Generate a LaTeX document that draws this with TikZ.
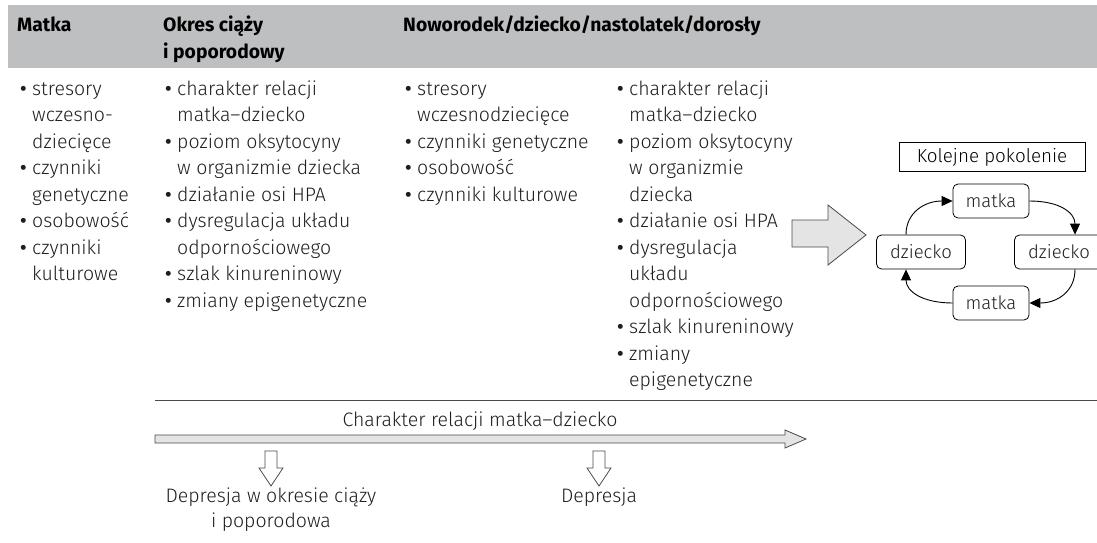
\documentclass[tikz,border=0pt]{standalone}
\usepackage{fontspec}
\setmainfont{Fira Sans}[UprightFont=* Light, BoldFont=* Bold]
\newfontfamily\bulletfont{Fira Sans}[UprightFont=* Medium]
\usetikzlibrary{arrows.meta}
\definecolor{band}{HTML}{BEBFC1}
\definecolor{txt}{HTML}{1E1E1E}
\definecolor{ln}{HTML}{4A4A4A}
\definecolor{arrfill}{HTML}{E4E4E4}
\newcommand{\bl}{{\bulletfont\textbullet}}
\begin{document}
\begin{tikzpicture}[x=1pt,y=-1pt,
  lst/.style={anchor=base west, inner sep=0pt, text=txt, font=\fontsize{19.5}{26.5}\selectfont},
  hdr/.style={anchor=base west, inner sep=0pt, font=\fontsize{19.3}{27}\selectfont\bfseries},
  rbox/.style={draw, rounded corners=5pt, line width=0.8pt, minimum height=34pt, inner sep=0pt, text=txt, font=\fontsize{18.5}{20}\selectfont},
  cyc/.style={line width=0.9pt, -{Triangle[length=11pt,width=10pt]}},
  garrow/.style={draw=ln, line width=0.8pt, line join=miter},
  lbl/.style={anchor=base, inner sep=0pt, text=txt, font=\fontsize{19.5}{25}\selectfont}
]
\clip (0,0) rectangle (1097,543);
\fill[white] (0,0) rectangle (1097,543);
% header band
\fill[band] (8,5) rectangle (1097,68);
\node[hdr] (h1) at (17,32) {Matka};
\node[hdr] (h2) at (163,32) {\begin{tabular}[t]{@{}l@{}}Okres ciąży\\i poporodowy\end{tabular}};
\node[hdr] (h3) at (403,32) {Noworodek/dziecko/nastolatek/dorosły};
% columns
\node[lst] (c1) at (20,95) {\begin{tabular}[t]{@{}p{12pt}@{}l@{}}
\bl & stresory\\ & wczesno-\\ & dziecięce\\ \bl & czynniki\\ & genetyczne\\ \bl & osobowość\\ \bl & czynniki\\ & kulturowe\end{tabular}};
\node[lst] (c2) at (165,95) {\begin{tabular}[t]{@{}p{12pt}@{}l@{}}
\bl & charakter relacji\\ & matka–dziecko\\ \bl & poziom oksytocyny\\ & w organizmie dziecka\\ \bl & działanie osi HPA\\ \bl & dysregulacja układu\\ & odpornościowego\\ \bl & szlak kinureninowy\\ \bl & zmiany epigenetyczne\end{tabular}};
\node[lst] (c3) at (405,95) {\begin{tabular}[t]{@{}p{12pt}@{}l@{}}
\bl & stresory\\ & wczesnodziecięce\\ \bl & czynniki genetyczne\\ \bl & osobowość\\ \bl & czynniki kulturowe\end{tabular}};
\node[lst] (c4) at (617,95) {\begin{tabular}[t]{@{}p{12pt}@{}l@{}}
\bl & charakter relacji\\ & matka–dziecko\\ \bl & poziom oksytocyny\\ & w organizmie\\ & dziecka\\ \bl & działanie osi HPA\\ \bl & dysregulacja\\ & układu\\ & odpornościowego\\ \bl & szlak kinureninowy\\ \bl & zmiany\\ & epigenetyczne\end{tabular}};
% big arrow
\filldraw[garrow, fill=arrfill] (792,220) -- (828,220) -- (828,205) -- (866,235) -- (828,265) -- (828,247) -- (792,247) -- cycle;
% cycle
\node[draw, line width=0.8pt, minimum width=186pt, minimum height=29pt, inner sep=0pt, font=\fontsize{18.8}{20}\selectfont] (kp) at (992,157) {Kolejne pokolenie};
\node[rbox, minimum width=76pt] (mt) at (991,201) {matka};
\node[rbox, minimum width=89pt] (dl) at (921,252) {dziecko};
\node[rbox, minimum width=89pt] (dr) at (1059,252) {dziecko};
\node[rbox, minimum width=76pt] (mb) at (991,303) {matka};
\draw[cyc] ([xshift=-15pt]dl.north) .. controls ([xshift=-15pt,yshift=22pt]dl.north) and ([xshift=-28pt]mt.west) .. (mt.west);
\draw[cyc] (mt.east) .. controls ([xshift=30pt]mt.east) and ([xshift=16pt,yshift=22pt]dr.north) .. ([xshift=16pt]dr.north);
\draw[cyc] ([xshift=16pt]dr.south) .. controls ([xshift=16pt,yshift=-22pt]dr.south) and ([xshift=28pt]mb.east) .. (mb.east);
\draw[cyc] (mb.west) .. controls ([xshift=-30pt]mb.west) and ([xshift=-15pt,yshift=-22pt]dl.south) .. ([xshift=-15pt]dl.south);
% bottom
\draw[ln, line width=1pt] (155,400) -- (1097,400);
\node[lbl] (rel) at (480,426) {Charakter relacji matka–dziecko};
\filldraw[garrow, fill=arrfill] (155,435) -- (785,435) -- (785,430) -- (806,439) -- (785,448) -- (785,443) -- (155,443) -- cycle;
\filldraw[garrow, fill=white] (265,451) -- (277,451) -- (277,468) -- (283,468) -- (271,486) -- (259,468) -- (265,468) -- cycle;
\filldraw[garrow, fill=white] (593,451) -- (605,451) -- (605,468) -- (611,468) -- (599,486) -- (587,468) -- (593,468) -- cycle;
\node[lbl] (d1) at (271,502) {\begin{tabular}[t]{@{}c@{}}Depresja w okresie ciąży\\i poporodowa\end{tabular}};
\node[lbl] (d2) at (599,502) {Depresja};
\end{tikzpicture}
\end{document}
